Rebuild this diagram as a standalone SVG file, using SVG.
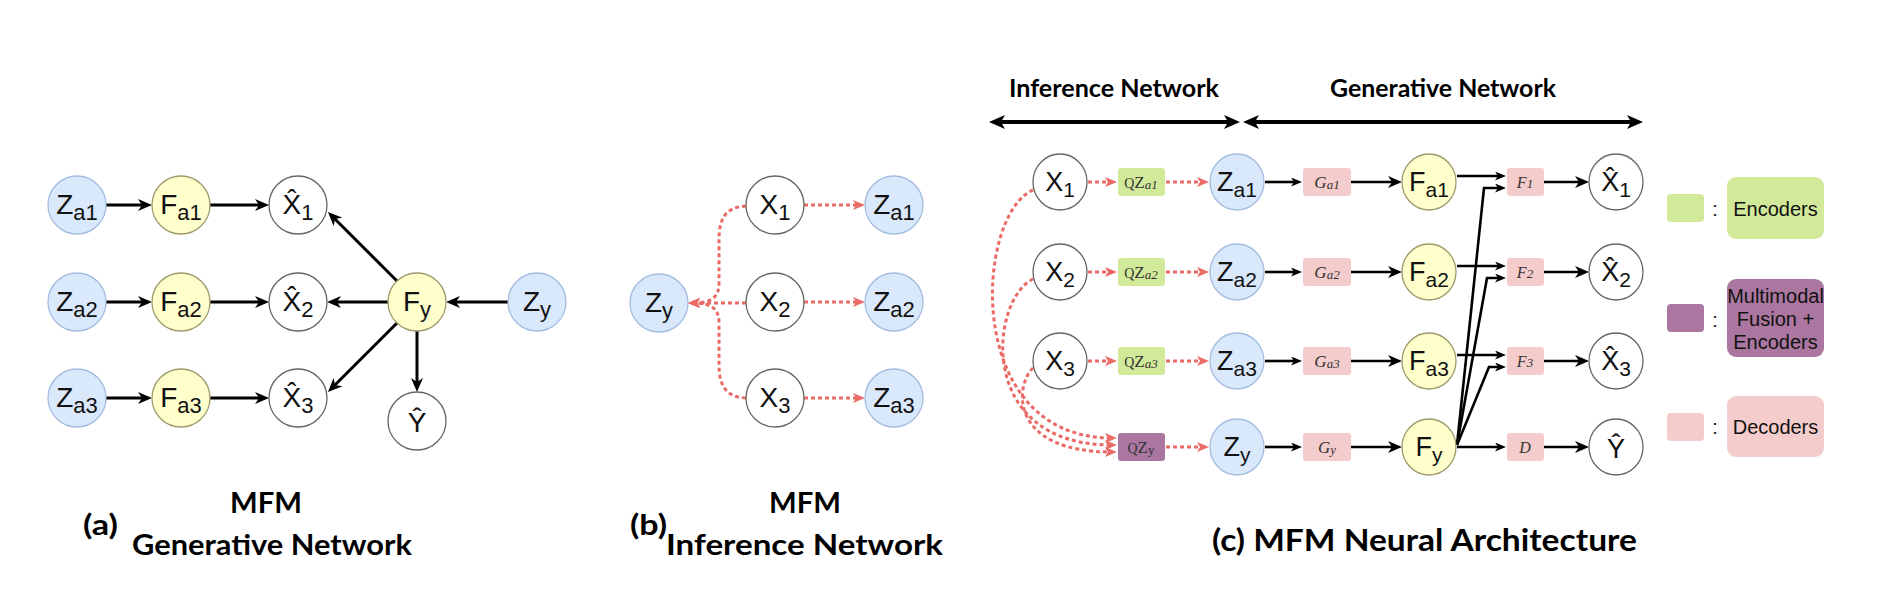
<svg xmlns="http://www.w3.org/2000/svg" width="1892" height="590" viewBox="0 0 1892 590">
<style>
.bg{fill:#ffffff}
.nb{fill:#dae8fc;stroke:#a3bcdf;stroke-width:1.3}
.ny{fill:#ffffcc;stroke:#9d9b6c;stroke-width:1.3}
.nw{fill:#ffffff;stroke:#666666;stroke-width:1.3}
.lbl{font-family:"Liberation Sans",Arial,sans-serif;font-size:28px;fill:#111;text-anchor:middle}
.lc{font-family:"Liberation Sans",Arial,sans-serif;font-size:27px;fill:#111;text-anchor:middle}
.blk{fill:none;stroke:#000;stroke-width:3}
.blk2{fill:none;stroke:#000;stroke-width:2.6}
.red{fill:none;stroke:#ea6b66;stroke-width:3;stroke-dasharray:4 3}
.bx-g{fill:#d2e99a}
.bx-p{fill:#ab77a0}
.bx-r{fill:#f4cccc}
.bt{font-family:"Liberation Serif","Times New Roman",serif;fill:#333;text-anchor:middle}
.cap{font-family:Lato,"Open Sans",sans-serif;font-weight:700;fill:#000}
.leg{font-family:"Liberation Sans",Arial,sans-serif;font-size:20px;fill:#111;text-anchor:middle}
</style>
<defs>
<marker id="ma" viewBox="0 0 14 12" refX="8" refY="6" markerWidth="14" markerHeight="12" markerUnits="userSpaceOnUse" orient="auto"><path d="M0,0 L14,6 L0,12 L4,6 z" fill="#000"/></marker>
<marker id="mc" viewBox="0 0 11 9" refX="6" refY="4.5" markerWidth="11" markerHeight="9" markerUnits="userSpaceOnUse" orient="auto"><path d="M0,0 L11,4.5 L0,9 L3,4.5 z" fill="#000"/></marker>
<marker id="mr" viewBox="0 0 12 10" refX="7" refY="5" markerWidth="12" markerHeight="10" markerUnits="userSpaceOnUse" orient="auto"><path d="M0,0 L12,5 L0,10 L3,5 z" fill="#ea6b66"/></marker>
<marker id="mt" viewBox="0 0 16 14" refX="9" refY="7" markerWidth="16" markerHeight="14" markerUnits="userSpaceOnUse" orient="auto-start-reverse"><path d="M0,0 L16,7 L0,14 L4,7 z" fill="#000"/></marker>
</defs>
<rect class="bg" x="0" y="0" width="1892" height="590"/>

<!-- connectors -->
<g id="connectors">
  <!-- panel a -->
  <line class="blk" x1="106" y1="205" x2="146" y2="205" marker-end="url(#ma)"/>
  <line class="blk" x1="106" y1="302" x2="146" y2="302" marker-end="url(#ma)"/>
  <line class="blk" x1="106" y1="398" x2="146" y2="398" marker-end="url(#ma)"/>
  <line class="blk" x1="210" y1="205" x2="263" y2="205" marker-end="url(#ma)"/>
  <line class="blk" x1="210" y1="302" x2="263" y2="302" marker-end="url(#ma)"/>
  <line class="blk" x1="210" y1="398" x2="263" y2="398" marker-end="url(#ma)"/>
  <line class="blk" x1="508" y1="302" x2="452" y2="302" marker-end="url(#ma)"/>
  <line class="blk" x1="388" y1="302" x2="333" y2="302" marker-end="url(#ma)"/>
  <line class="blk" x1="397" y1="281" x2="332.2" y2="216.2" marker-end="url(#ma)"/>
  <line class="blk" x1="397" y1="323" x2="332.2" y2="387.8" marker-end="url(#ma)"/>
  <line class="blk" x1="417" y1="331" x2="417" y2="386" marker-end="url(#ma)"/>
  <!-- panel b -->
  <line class="red" x1="804" y1="205" x2="860" y2="205" marker-end="url(#mr)"/>
  <line class="red" x1="804" y1="302" x2="860" y2="302" marker-end="url(#mr)"/>
  <line class="red" x1="804" y1="398" x2="860" y2="398" marker-end="url(#mr)"/>
  <line class="red" x1="746" y1="303" x2="693" y2="303" marker-end="url(#mr)"/>
  <path class="red" d="M746,206 C726,207 719,218 719,240 L719,283 C719,297 712,303 693,303" marker-end="url(#mr)"/>
  <path class="red" d="M746,398 C726,397 719,386 719,364 L719,323 C719,309 712,303 693,303" marker-end="url(#mr)"/>
  <!-- panel c header arrows -->
  <line x1="996" y1="122" x2="1233" y2="122" stroke="#000" stroke-width="4" marker-start="url(#mt)" marker-end="url(#mt)"/>
  <line x1="1250" y1="122" x2="1636" y2="122" stroke="#000" stroke-width="4" marker-start="url(#mt)" marker-end="url(#mt)"/>
  <!-- panel c inference -->
  <line class="red" x1="1088" y1="182" x2="1112" y2="182" marker-end="url(#mr)"/>
  <line class="red" x1="1088" y1="272" x2="1112" y2="272" marker-end="url(#mr)"/>
  <line class="red" x1="1088" y1="361" x2="1112" y2="361" marker-end="url(#mr)"/>
  <line class="red" x1="1166" y1="182" x2="1204" y2="182" marker-end="url(#mr)"/>
  <line class="red" x1="1166" y1="272" x2="1204" y2="272" marker-end="url(#mr)"/>
  <line class="red" x1="1166" y1="361" x2="1204" y2="361" marker-end="url(#mr)"/>
  <line class="red" x1="1166" y1="447" x2="1204" y2="447" marker-end="url(#mr)"/>
  <path class="red" d="M1033,190 C975,215 962,438 1112,438" marker-end="url(#mr)"/>
  <path class="red" d="M1033,279 C990,300 975,445 1112,445" marker-end="url(#mr)"/>
  <path class="red" d="M1033,368 C1015,385 1008,452 1112,452" marker-end="url(#mr)"/>
  <!-- panel c generative -->
  <line class="blk2" x1="1265" y1="182" x2="1297" y2="182" marker-end="url(#mc)"/>
  <line class="blk2" x1="1265" y1="272" x2="1297" y2="272" marker-end="url(#mc)"/>
  <line class="blk2" x1="1265" y1="361" x2="1297" y2="361" marker-end="url(#mc)"/>
  <line class="blk2" x1="1265" y1="447" x2="1297" y2="447" marker-end="url(#mc)"/>
  <line class="blk2" x1="1351" y1="182" x2="1396" y2="182" marker-end="url(#ma)"/>
  <line class="blk2" x1="1351" y1="272" x2="1396" y2="272" marker-end="url(#ma)"/>
  <line class="blk2" x1="1351" y1="361" x2="1396" y2="361" marker-end="url(#ma)"/>
  <line class="blk2" x1="1351" y1="447" x2="1396" y2="447" marker-end="url(#ma)"/>
  <line class="blk2" x1="1457" y1="176" x2="1501" y2="176" marker-end="url(#mc)"/>
  <line class="blk2" x1="1457" y1="266" x2="1501" y2="266" marker-end="url(#mc)"/>
  <line class="blk2" x1="1457" y1="355" x2="1501" y2="355" marker-end="url(#mc)"/>
  <polyline class="blk2" points="1457,445 1484,188 1501,188" marker-end="url(#mc)"/>
  <polyline class="blk2" points="1457,445 1487,278 1501,278" marker-end="url(#mc)"/>
  <polyline class="blk2" points="1457,445 1489,367 1501,367" marker-end="url(#mc)"/>
  <line class="blk2" x1="1457" y1="447" x2="1501" y2="447" marker-end="url(#mc)"/>
  <line class="blk2" x1="1544" y1="182" x2="1583" y2="182" marker-end="url(#ma)"/>
  <line class="blk2" x1="1544" y1="272" x2="1583" y2="272" marker-end="url(#ma)"/>
  <line class="blk2" x1="1544" y1="361" x2="1583" y2="361" marker-end="url(#ma)"/>
  <line class="blk2" x1="1544" y1="447" x2="1583" y2="447" marker-end="url(#ma)"/>
</g>

<!-- panel a nodes -->
<g id="a-Za1"><ellipse class="nb" cx="77" cy="205" rx="29" ry="29"/><text class="lbl" x="77" y="214">Z<tspan font-size="22" dy="6">a1</tspan></text></g>
<g id="a-Za2"><ellipse class="nb" cx="77" cy="302" rx="29" ry="29"/><text class="lbl" x="77" y="311">Z<tspan font-size="22" dy="6">a2</tspan></text></g>
<g id="a-Za3"><ellipse class="nb" cx="77" cy="398" rx="29" ry="29"/><text class="lbl" x="77" y="407">Z<tspan font-size="22" dy="6">a3</tspan></text></g>
<g id="a-Fa1"><ellipse class="ny" cx="181" cy="205" rx="29" ry="29"/><text class="lbl" x="181" y="214">F<tspan font-size="22" dy="6">a1</tspan></text></g>
<g id="a-Fa2"><ellipse class="ny" cx="181" cy="302" rx="29" ry="29"/><text class="lbl" x="181" y="311">F<tspan font-size="22" dy="6">a2</tspan></text></g>
<g id="a-Fa3"><ellipse class="ny" cx="181" cy="398" rx="29" ry="29"/><text class="lbl" x="181" y="407">F<tspan font-size="22" dy="6">a3</tspan></text></g>
<g id="a-Xh1"><ellipse class="nw" cx="298" cy="205" rx="29" ry="29"/><text class="lbl" x="298" y="214">X&#x302;<tspan font-size="22" dy="6">1</tspan></text></g>
<g id="a-Xh2"><ellipse class="nw" cx="298" cy="302" rx="29" ry="29"/><text class="lbl" x="298" y="311">X&#x302;<tspan font-size="22" dy="6">2</tspan></text></g>
<g id="a-Xh3"><ellipse class="nw" cx="298" cy="398" rx="29" ry="29"/><text class="lbl" x="298" y="407">X&#x302;<tspan font-size="22" dy="6">3</tspan></text></g>
<g id="a-Fy"><ellipse class="ny" cx="417" cy="302" rx="29" ry="29"/><text class="lbl" x="417" y="311">F<tspan font-size="22" dy="6">y</tspan></text></g>
<g id="a-Zy"><ellipse class="nb" cx="537" cy="302" rx="29" ry="29"/><text class="lbl" x="537" y="311">Z<tspan font-size="22" dy="6">y</tspan></text></g>
<g id="a-Yh"><ellipse class="nw" cx="417" cy="421" rx="29" ry="29"/><text class="lbl" x="417" y="432">&#x176;</text></g>

<!-- panel b nodes -->
<g id="b-Zy"><ellipse class="nb" cx="659" cy="303" rx="29" ry="29"/><text class="lbl" x="659" y="312">Z<tspan font-size="22" dy="6">y</tspan></text></g>
<g id="b-X1"><ellipse class="nw" cx="775" cy="205" rx="29" ry="29"/><text class="lbl" x="775" y="214">X<tspan font-size="22" dy="6">1</tspan></text></g>
<g id="b-X2"><ellipse class="nw" cx="775" cy="302" rx="29" ry="29"/><text class="lbl" x="775" y="311">X<tspan font-size="22" dy="6">2</tspan></text></g>
<g id="b-X3"><ellipse class="nw" cx="775" cy="398" rx="29" ry="29"/><text class="lbl" x="775" y="407">X<tspan font-size="22" dy="6">3</tspan></text></g>
<g id="b-Za1"><ellipse class="nb" cx="894" cy="205" rx="29" ry="29"/><text class="lbl" x="894" y="214">Z<tspan font-size="22" dy="6">a1</tspan></text></g>
<g id="b-Za2"><ellipse class="nb" cx="894" cy="302" rx="29" ry="29"/><text class="lbl" x="894" y="311">Z<tspan font-size="22" dy="6">a2</tspan></text></g>
<g id="b-Za3"><ellipse class="nb" cx="894" cy="398" rx="29" ry="29"/><text class="lbl" x="894" y="407">Z<tspan font-size="22" dy="6">a3</tspan></text></g>

<!-- panel c header -->
<g id="c-header">
  <text class="cap" x="1114" y="97" font-size="24" text-anchor="middle" textLength="210" lengthAdjust="spacingAndGlyphs">Inference Network</text>
  <text class="cap" x="1443" y="97" font-size="24" text-anchor="middle" textLength="226" lengthAdjust="spacingAndGlyphs">Generative Network</text>
</g>

<!-- panel c nodes -->
<g id="c-X1"><ellipse class="nw" cx="1060" cy="182" rx="27" ry="28"/><text class="lc" x="1060" y="191">X<tspan font-size="21" dy="6">1</tspan></text></g>
<g id="c-X2"><ellipse class="nw" cx="1060" cy="272" rx="27" ry="28"/><text class="lc" x="1060" y="281">X<tspan font-size="21" dy="6">2</tspan></text></g>
<g id="c-X3"><ellipse class="nw" cx="1060" cy="361" rx="27" ry="28"/><text class="lc" x="1060" y="370">X<tspan font-size="21" dy="6">3</tspan></text></g>

<g id="c-Q1"><rect class="bx-g" x="1118" y="168" width="47" height="28" rx="3"/><text class="bt" x="1141" y="188" font-size="17"><tspan font-size="14">Q</tspan>Z<tspan font-size="13" font-style="italic" dy="1">a1</tspan></text></g>
<g id="c-Q2"><rect class="bx-g" x="1118" y="258" width="47" height="28" rx="3"/><text class="bt" x="1141" y="278" font-size="17"><tspan font-size="14">Q</tspan>Z<tspan font-size="13" font-style="italic" dy="1">a2</tspan></text></g>
<g id="c-Q3"><rect class="bx-g" x="1118" y="347" width="47" height="28" rx="3"/><text class="bt" x="1141" y="367" font-size="17"><tspan font-size="14">Q</tspan>Z<tspan font-size="13" font-style="italic" dy="1">a3</tspan></text></g>
<g id="c-Qy"><rect class="bx-p" x="1118" y="433" width="47" height="28" rx="3"/><text class="bt" x="1141" y="453" font-size="17"><tspan font-size="14">Q</tspan>Z<tspan font-size="13" dy="1">y</tspan></text></g>

<g id="c-Za1"><ellipse class="nb" cx="1237" cy="182" rx="27" ry="28"/><text class="lc" x="1237" y="191">Z<tspan font-size="21" dy="6">a1</tspan></text></g>
<g id="c-Za2"><ellipse class="nb" cx="1237" cy="272" rx="27" ry="28"/><text class="lc" x="1237" y="281">Z<tspan font-size="21" dy="6">a2</tspan></text></g>
<g id="c-Za3"><ellipse class="nb" cx="1237" cy="361" rx="27" ry="28"/><text class="lc" x="1237" y="370">Z<tspan font-size="21" dy="6">a3</tspan></text></g>
<g id="c-Zy"><ellipse class="nb" cx="1237" cy="447" rx="27" ry="28"/><text class="lc" x="1237" y="456">Z<tspan font-size="21" dy="6">y</tspan></text></g>

<g id="c-G1"><rect class="bx-r" x="1303" y="168" width="48" height="28" rx="3"/><text class="bt" x="1327" y="188" font-size="17" font-style="italic">G<tspan font-size="13" dy="1">a1</tspan></text></g>
<g id="c-G2"><rect class="bx-r" x="1303" y="258" width="48" height="28" rx="3"/><text class="bt" x="1327" y="278" font-size="17" font-style="italic">G<tspan font-size="13" dy="1">a2</tspan></text></g>
<g id="c-G3"><rect class="bx-r" x="1303" y="347" width="48" height="28" rx="3"/><text class="bt" x="1327" y="367" font-size="17" font-style="italic">G<tspan font-size="13" dy="1">a3</tspan></text></g>
<g id="c-Gy"><rect class="bx-r" x="1303" y="433" width="48" height="28" rx="3"/><text class="bt" x="1327" y="453" font-size="17" font-style="italic">G<tspan font-size="13" dy="1">y</tspan></text></g>

<g id="c-Fa1"><ellipse class="ny" cx="1429" cy="182" rx="27" ry="28"/><text class="lc" x="1429" y="191">F<tspan font-size="21" dy="6">a1</tspan></text></g>
<g id="c-Fa2"><ellipse class="ny" cx="1429" cy="272" rx="27" ry="28"/><text class="lc" x="1429" y="281">F<tspan font-size="21" dy="6">a2</tspan></text></g>
<g id="c-Fa3"><ellipse class="ny" cx="1429" cy="361" rx="27" ry="28"/><text class="lc" x="1429" y="370">F<tspan font-size="21" dy="6">a3</tspan></text></g>
<g id="c-Fy"><ellipse class="ny" cx="1429" cy="447" rx="27" ry="28"/><text class="lc" x="1429" y="456">F<tspan font-size="21" dy="6">y</tspan></text></g>

<g id="c-F1"><rect class="bx-r" x="1507" y="168" width="37" height="28" rx="3"/><text class="bt" x="1525" y="188" font-size="16" font-style="italic">F<tspan font-size="13">1</tspan></text></g>
<g id="c-F2"><rect class="bx-r" x="1507" y="258" width="37" height="28" rx="3"/><text class="bt" x="1525" y="278" font-size="16" font-style="italic">F<tspan font-size="13">2</tspan></text></g>
<g id="c-F3"><rect class="bx-r" x="1507" y="347" width="37" height="28" rx="3"/><text class="bt" x="1525" y="367" font-size="16" font-style="italic">F<tspan font-size="13">3</tspan></text></g>
<g id="c-D"><rect class="bx-r" x="1507" y="433" width="37" height="28" rx="3"/><text class="bt" x="1525" y="453" font-size="16" font-style="italic">D</text></g>

<g id="c-Xh1"><ellipse class="nw" cx="1616" cy="182" rx="27" ry="28"/><text class="lc" x="1616" y="191">X&#x302;<tspan font-size="21" dy="6">1</tspan></text></g>
<g id="c-Xh2"><ellipse class="nw" cx="1616" cy="272" rx="27" ry="28"/><text class="lc" x="1616" y="281">X&#x302;<tspan font-size="21" dy="6">2</tspan></text></g>
<g id="c-Xh3"><ellipse class="nw" cx="1616" cy="361" rx="27" ry="28"/><text class="lc" x="1616" y="370">X&#x302;<tspan font-size="21" dy="6">3</tspan></text></g>
<g id="c-Yh"><ellipse class="nw" cx="1616" cy="447" rx="27" ry="28"/><text class="lc" x="1616" y="458">&#x176;</text></g>

<!-- legend -->
<g id="legend-enc"><rect class="bx-g" x="1667" y="194" width="37" height="28" rx="4"/><text class="leg" x="1715" y="216">:</text><rect class="bx-g" x="1727" y="177" width="97" height="62" rx="9"/><text class="leg" x="1775.5" y="216">Encoders</text></g>
<g id="legend-fus"><rect class="bx-p" x="1667" y="304" width="37" height="28" rx="4"/><text class="leg" x="1715" y="327">:</text><rect class="bx-p" x="1727" y="279" width="97" height="78" rx="9"/><text class="leg" x="1775.5" y="303" font-size="19">Multimodal</text><text class="leg" x="1775.5" y="326" font-size="19">Fusion +</text><text class="leg" x="1775.5" y="349" font-size="19">Encoders</text></g>
<g id="legend-dec"><rect class="bx-r" x="1667" y="413" width="37" height="28" rx="4"/><text class="leg" x="1715" y="434">:</text><rect class="bx-r" x="1727" y="396" width="97" height="61" rx="9"/><text class="leg" x="1775.5" y="434">Decoders</text></g>

<!-- captions -->
<g id="captions">
  <text class="cap" x="266" y="513" font-size="28" text-anchor="middle" textLength="72" lengthAdjust="spacingAndGlyphs">MFM</text>
  <text class="cap" x="83" y="535" font-size="28" textLength="35" lengthAdjust="spacingAndGlyphs">(a)</text>
  <text class="cap" x="132" y="555" font-size="28" textLength="280" lengthAdjust="spacingAndGlyphs">Generative Network</text>
  <text class="cap" x="805" y="513" font-size="28" text-anchor="middle" textLength="72" lengthAdjust="spacingAndGlyphs">MFM</text>
  <text class="cap" x="630" y="535" font-size="28" textLength="37" lengthAdjust="spacingAndGlyphs">(b)</text>
  <text class="cap" x="666" y="555" font-size="28" textLength="277" lengthAdjust="spacingAndGlyphs">Inference Network</text>
  <text class="cap" x="1212" y="551" font-size="30" textLength="425" lengthAdjust="spacingAndGlyphs">(c) MFM Neural Architecture</text>
</g>
</svg>
